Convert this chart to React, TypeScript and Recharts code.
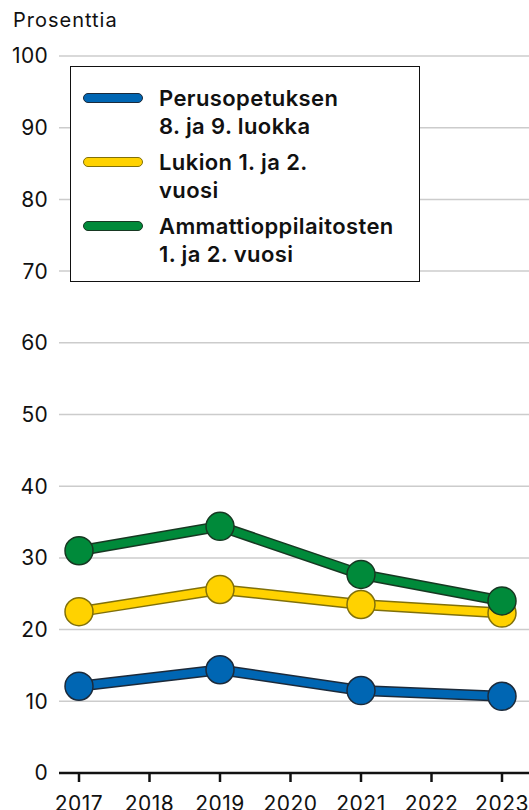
import React from 'react';
import { LineChart, Line, XAxis, YAxis, CartesianGrid, Legend, Label } from 'recharts';

const years = ['2017', '2018', '2019', '2020', '2021', '2022', '2023'];
const perusopetus = [12.1, null, 14.4, null, 11.5, null, 10.7];
const lukio = [22.5, null, 25.6, null, 23.5, null, 22.3];
const ammatti = [31.0, null, 34.4, null, 27.7, null, 24.0];
const yTicks = [0, 10, 20, 30, 40, 50, 60, 70, 80, 90, 100];

const series = [
  { key: 'perus', name: ['Perusopetuksen', '8. ja 9. luokka'], color: '#0066b3', edge: '#1c2a3a' },
  { key: 'lukio', name: ['Lukion 1. ja 2.', 'vuosi'], color: '#ffd200', edge: '#80700a' },
  { key: 'ammatti', name: ['Ammattioppilaitosten', '1. ja 2. vuosi'], color: '#008a3a', edge: '#173822' },
];

const data = years.map((year, i) => ({
  year,
  perus: perusopetus[i],
  lukio: lukio[i],
  ammatti: ammatti[i],
}));

const font = 'Inter, "Noto Sans", sans-serif';

function LegendBox() {
  return (
    <div
      style={{
        boxSizing: 'border-box',
        width: 350,
        height: 216,
        background: '#fff',
        border: '1px solid #111',
        padding: '17px 0 0 12px',
        fontFamily: font,
        fontWeight: 600,
        fontSize: 22,
        letterSpacing: 0.4,
        lineHeight: '28px',
        color: '#111',
      }}
    >
      {series.map((s) => (
        <div key={s.key} style={{ display: 'flex', alignItems: 'flex-start', marginBottom: 8 }}>
          <div
            style={{
              boxSizing: 'border-box',
              width: 60,
              height: 10,
              marginTop: 9,
              marginRight: 16,
              borderRadius: 5,
              background: s.color,
              border: `1.5px solid ${s.edge}`,
              flexShrink: 0,
            }}
          />
          <div>
            {s.name.map((n) => (
              <div key={n}>{n}</div>
            ))}
          </div>
        </div>
      ))}
    </div>
  );
}

export default function App() {
  return (
    <div style={{ position: 'absolute', left: 0, top: 0, width: 529, height: 810, overflow: 'hidden', background: '#fff' }}>
      <LineChart width={529} height={810} data={data} margin={{ top: 56, right: 0, bottom: 0, left: 0 }}>
        <CartesianGrid vertical={false} stroke="#cccccc" strokeWidth={1.5} />
        <XAxis
          dataKey="year"
          height={37}
          padding={{ left: 20, right: 27 }}
          axisLine={{ stroke: '#111', strokeWidth: 2.5 }}
          tickLine={{ stroke: '#111', strokeWidth: 2.5 }}
          tickSize={9}
          tickMargin={14}
          interval={0}
          tick={{ fill: '#111', fontSize: 21, fontFamily: font, letterSpacing: 0.5 }}
        />
        <YAxis
          width={59}
          domain={[0, 100]}
          ticks={yTicks}
          axisLine={false}
          tickLine={false}
          tickSize={0}
          tickMargin={11}
          tick={{ fill: '#111', fontSize: 21, fontFamily: font, letterSpacing: 0.3 }}
        >
          <Label
            content={() => (
              <text x={13} y={27} fill="#111" fontSize={20} letterSpacing={1} fontFamily={font}>
                Prosenttia
              </text>
            )}
          />
        </YAxis>
        <Legend
          layout="vertical"
          align="center"
          verticalAlign="middle"
          wrapperStyle={{ left: 70, top: 66, width: 350, height: 216 }}
          content={() => <LegendBox />}
        />
        {series.map((s) => [
          <Line
            key={s.key + '-edge'}
            dataKey={s.key}
            stroke={s.edge}
            strokeWidth={11}
            dot={false}
            activeDot={false}
            connectNulls
            legendType="none"
            isAnimationActive={false}
          />,
          <Line
            key={s.key}
            dataKey={s.key}
            stroke={s.color}
            strokeWidth={8}
            dot={{ r: 14, fill: s.color, stroke: s.edge, strokeWidth: 1.5 }}
            activeDot={false}
            connectNulls
            isAnimationActive={false}
          />,
        ])}
      </LineChart>
    </div>
  );
}
